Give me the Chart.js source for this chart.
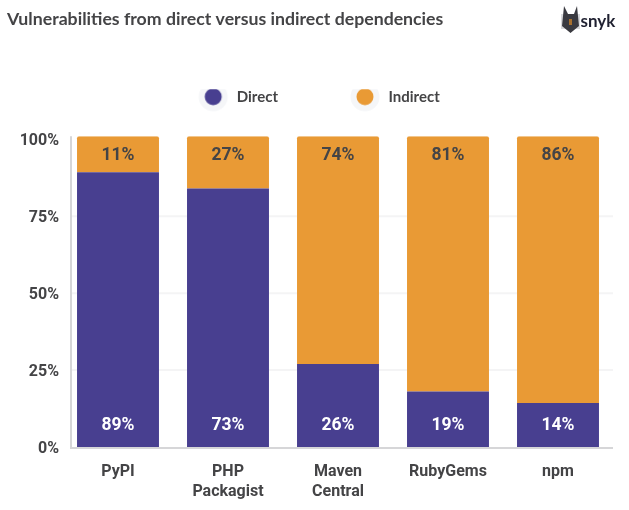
<!DOCTYPE html>
<html><head><meta charset="utf-8">
<style>html,body{margin:0;padding:0;background:#fff}canvas{display:block}</style>
<script src="https://cdn.jsdelivr.net/npm/chart.js@4"></script>
</head><body><canvas id="c" width="629" height="510"></canvas>
<script>
const categories = [['PyPI'],['PHP','Packagist'],['Maven','Central'],['RubyGems'],['npm']];
const directBars = [89.3, 84, 27, 18, 14.3];
const indirectBars = [11.7, 17, 74, 83, 86.7];
const directLabels = ['89%','73%','26%','19%','14%'];
const indirectLabels = ['11%','27%','74%','81%','86%'];
const yTicks = [0,25,50,75,100];
const INK = '#444446', BLUE = '#483f90', ORANGE = '#e99a35';

function marker(color){
  const m=document.createElement('canvas');m.width=103;m.height=40;
  const g=m.getContext('2d');
  g.fillStyle='#f5f6f8';g.beginPath();g.arc(87,20,14.5,0,7);g.fill();
  g.fillStyle=color;g.beginPath();g.arc(87,20,8.5,0,7);g.fill();
  return m;
}

const decor = {
  id:'decor',
  afterLayout(ch){
    const l=ch.legend;
    l.left+=-27; l.right+=-27; l.top+=-22; l.bottom+=-22;
  },
  beforeDatasetsDraw(ch){
    const {ctx,scales:{y},chartArea:a} = ch;
    ctx.save();
    ctx.strokeStyle='#f4f4f5'; ctx.lineWidth=2;
    [25,50,75].forEach(v=>{const p=y.getPixelForValue(v);ctx.beginPath();ctx.moveTo(71,p);ctx.lineTo(a.right,p);ctx.stroke();});
    ctx.strokeStyle='#d6d6d8';
    ctx.beginPath();ctx.moveTo(71,a.top);ctx.lineTo(71,a.bottom+1);ctx.lineTo(a.right,a.bottom+1);ctx.stroke();
    ctx.restore();
  },
  afterDatasetsDraw(ch){
    const {ctx,chartArea:a} = ch;
    ctx.save();
    ctx.font='700 17.5px Roboto';ctx.textAlign='center';ctx.textBaseline='middle';
    ch.getDatasetMeta(0).data.forEach((b,i)=>{ctx.fillStyle='#fff';ctx.fillText(directLabels[i],b.x,a.bottom-21);});
    ch.getDatasetMeta(1).data.forEach((b,i)=>{ctx.fillStyle=INK;ctx.fillText(indirectLabels[i],b.x,a.top+19);});
    ctx.restore();
  },
  beforeDraw(ch){
    const {ctx} = ch;
    ctx.save();
    const X=561,Y=6;
    ctx.fillStyle='#d9d9dc';ctx.fillRect(X,Y+8,19,15);
    ctx.fillStyle='#3a3a40';ctx.beginPath();
    ctx.moveTo(X+3,Y);ctx.lineTo(X+7,Y+8);ctx.lineTo(X+13,Y+8);ctx.lineTo(X+16,Y);ctx.lineTo(X+18,Y+20);
    ctx.lineTo(X+9.5,Y+27);ctx.lineTo(X+1,Y+20);ctx.closePath();ctx.fill();
    ctx.fillStyle='#a8702f';ctx.fillRect(X+8,Y+13,3,6);
    ctx.fillStyle='#1f2030';ctx.font='700 17px Lato';ctx.textAlign='left';ctx.textBaseline='alphabetic';
    ctx.fillText('snyk',X+19.5,Y+21);
    ctx.restore();
  }
};

const legendMarkers=[marker(BLUE),marker(ORANGE)];

new Chart(document.getElementById('c'),{
  type:'bar',
  data:{labels:categories,datasets:[
    {label:'Direct',data:directBars,backgroundColor:BLUE,categoryPercentage:1,barPercentage:.745},
    {label:'Indirect',data:indirectBars,backgroundColor:ORANGE,categoryPercentage:1,barPercentage:.745,
     borderRadius:{topLeft:2,topRight:2,bottomLeft:0,bottomRight:0},borderSkipped:false}
  ]},
  plugins:[decor],
  options:{
    responsive:false,animation:false,
    layout:{padding:{left:7,right:16,top:9,bottom:0}},
    plugins:{
      tooltip:{enabled:false},
      title:{display:true,text:'Vulnerabilities from direct versus indirect dependencies',align:'start',
        color:INK,font:{family:'Lato',weight:'700',size:17.7},padding:{top:0,bottom:81}},
      legend:{position:'top',align:'center',
        labels:{usePointStyle:true,pointStyleWidth:103,boxHeight:16,padding:0,color:INK,
          font:{family:'Lato',weight:'700',size:15},
          generateLabels(ch){return ch.data.datasets.map((d,i)=>({text:d.label,pointStyle:legendMarkers[i],fontColor:INK,datasetIndex:i,lineWidth:0,strokeStyle:'transparent',fillStyle:'transparent'}));}}}
    },
    scales:{
      x:{stacked:true,grid:{display:false,drawTicks:false},border:{display:false},
        ticks:{color:INK,padding:15,maxRotation:0,autoSkip:false,font:{family:'Roboto',weight:'700',size:16,lineHeight:1.25}},
        afterFit(s){s.height=63;}},
      y:{stacked:true,min:0,max:101,grid:{display:false,drawTicks:false},border:{display:false},
        afterBuildTicks(s){s.ticks=yTicks.map(v=>({value:v}));},
        ticks:{color:INK,padding:4,labelOffset:2,callback:v=>v+'%',font:{family:'Roboto',weight:'700',size:16}},
        afterFit(s){s.width=56;}}
    }
  }
});
</script></body></html>
